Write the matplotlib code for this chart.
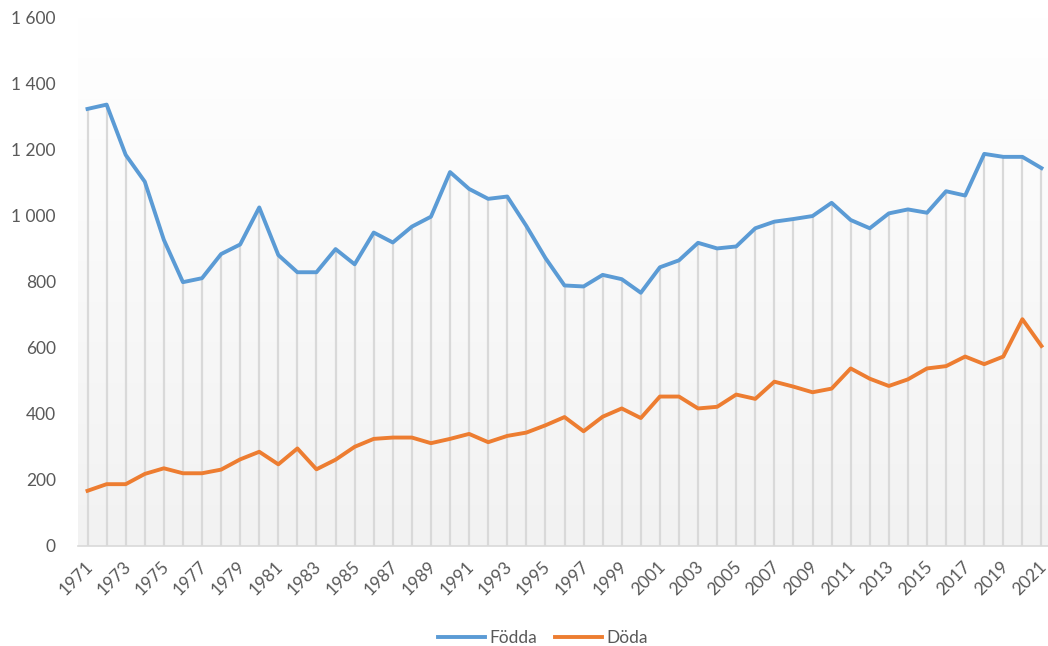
import numpy as np
import matplotlib
matplotlib.use("Agg")
import matplotlib.pyplot as plt
import matplotlib.transforms as mtransforms
from matplotlib.ticker import FuncFormatter

# Data
years = list(range(1971, 2022))
fodda = [1322, 1335, 1183, 1102, 926, 798, 810, 883, 912, 1024,
         880, 828, 828, 898, 852, 948, 918, 966, 996, 1131,
         1080, 1050, 1057, 968, 871, 788, 785, 820, 807, 766,
         843, 864, 917, 900, 906, 961, 981, 989, 998, 1038,
         986, 961, 1006, 1018, 1008, 1073, 1060, 1186, 1177, 1177,
         1143]
doda = [167, 187, 187, 218, 235, 220, 220, 231, 262, 285,
        247, 295, 232, 261, 300, 324, 328, 328, 311, 324,
        339, 314, 333, 343, 365, 390, 347, 391, 416, 387,
        452, 452, 416, 421, 458, 445, 497, 482, 465, 476,
        537, 506, 484, 504, 537, 544, 573, 550, 573, 686,
        605]
series_names = ["Födda", "Döda"]

BLUE = "#5B9BD5"
ORANGE = "#ED7D31"
TEXT = "#595959"

plt.rcParams['font.family'] = ['Lato', 'DejaVu Sans']

fig = plt.figure(figsize=(10.48, 6.46), dpi=100)
ax = fig.add_axes([78 / 1048, 100 / 646, 973 / 1048, 529 / 646])

ax.set_xlim(1970.5, 2021.5)
ax.set_ylim(0, 1600)

# gradient background: white at top, light grey at bottom
grad = np.linspace(1.0, 0.0, 256).reshape(-1, 1)
ax.imshow(grad, extent=[0, 1, 0, 1], transform=ax.transAxes, aspect='auto',
          cmap=matplotlib.colors.LinearSegmentedColormap.from_list(
              "bg", ["#f2f2f2", "#ffffff"]), zorder=0)

# drop lines from the highest series to the axis
top = np.maximum(fodda, doda)
ax.vlines(years, 0, top, color="#d9d9d9", lw=1.6, zorder=1)

ax.plot(years, fodda, color=BLUE, lw=2.8, label=series_names[0], zorder=3,
        solid_joinstyle='round')
ax.plot(years, doda, color=ORANGE, lw=2.8, label=series_names[1], zorder=3,
        solid_joinstyle='round')

for s in ["top", "right", "left"]:
    ax.spines[s].set_visible(False)
ax.spines["bottom"].set_color("#d9d9d9")
ax.spines["bottom"].set_linewidth(1.2)

ax.set_yticks(range(0, 1601, 200))
ax.yaxis.set_major_formatter(FuncFormatter(lambda v, p: f"{int(v):,}".replace(",", " ")))
ax.set_xticks(years[::2])
ax.set_xticklabels([str(y) for y in years[::2]], rotation=45, ha="right",
                   rotation_mode="anchor")
ax.tick_params(axis="both", length=0, colors=TEXT, labelsize=12.5)
ax.tick_params(axis="y", pad=16)
ax.tick_params(axis="x", pad=9)

# nudge the rotated year labels a little to the left so 2021 fits
shift = mtransforms.ScaledTranslation(-3 / 100, 0, fig.dpi_scale_trans)
for lab in ax.get_xticklabels():
    lab.set_transform(lab.get_transform() + shift)

leg = ax.legend(loc="center", bbox_to_anchor=(543 / 1048, 8 / 646),
                bbox_transform=fig.transFigure, ncol=2, frameon=False,
                fontsize=12.5, handlelength=2.7, columnspacing=1.0,
                handletextpad=0.25)
for t in leg.get_texts():
    t.set_color(TEXT)

fig.savefig("out.png", dpi=100, facecolor="white")
